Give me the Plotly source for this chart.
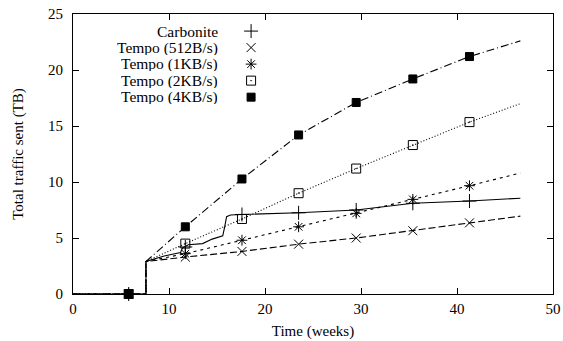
import plotly.graph_objects as go

# ---- data ----
marker_weeks = [5.8, 11.7, 17.6, 23.5, 29.5, 35.4, 41.3]

carb_line_x = [0, 7.6, 7.6, 9.5, 11.2, 11.4, 12.0, 13.5, 14.5, 15.6, 15.8, 16.0, 16.4, 17.6, 23.5, 29.5, 35.4, 41.3, 46.6]
carb_line_y = [0, 0, 2.9, 3.4, 3.7, 4.1, 4.4, 4.5, 4.9, 5.2, 6.0, 6.9, 7.05, 7.1, 7.25, 7.5, 8.1, 8.3, 8.55]
carb_marks = [0, 4.2, 7.1, 7.25, 7.5, 8.1, 8.3]

tempo_line_x = [0, 7.6, 7.6, 11.7, 17.6, 23.5, 29.5, 35.4, 41.3, 46.6]
t512_y = [0, 0, 2.9, 3.3, 3.8, 4.45, 5.0, 5.65, 6.35, 6.95]
t1k_y = [0, 0, 2.9, 3.6, 4.8, 6.0, 7.2, 8.45, 9.67, 10.8]
t2k_y = [0, 0, 2.9, 4.5, 6.7, 9.0, 11.2, 13.3, 15.35, 17.0]
t4k_y = [0, 0, 2.9, 6.0, 10.27, 14.2, 17.1, 19.2, 21.2, 22.6]

names = ["Carbonite", "Tempo (512B/s)", "Tempo (1KB/s)", "Tempo (2KB/s)", "Tempo (4KB/s)"]

x_ticks = [0, 10, 20, 30, 40, 50]
y_ticks = [0, 5, 10, 15, 20, 25]

FONT = "Liberation Serif, serif"

fig = go.Figure()

series = [
    (names[0], carb_line_x, carb_line_y, "solid", "cross-thin-open", 10),
    (names[1], tempo_line_x, t512_y, "7px,3px", "x-thin-open", 9),
    (names[2], tempo_line_x, t1k_y, "3px,4px", "asterisk-open", 9),
    (names[3], tempo_line_x, t2k_y, "1px,2px", "square-open-dot", 9),
    (names[4], tempo_line_x, t4k_y, "8px,3px,1px,3px", "square", 8),
]

for name, lx, ly, dash, sym, sz in series:
    fig.add_trace(go.Scatter(x=lx, y=ly, mode="lines", showlegend=False,
                             line=dict(color="black", width=1.1, dash=dash),
                             hoverinfo="skip", cliponaxis=False))

def marks_for(lx, ly):
    # marker values at the sample weeks, taken from the line data points
    out = []
    for w in marker_weeks:
        if w in lx:
            out.append(ly[len(lx) - 1 - lx[::-1].index(w)])
        else:
            out.append(0)
    return out

mark_vals = [carb_marks, marks_for(tempo_line_x, t512_y), marks_for(tempo_line_x, t1k_y),
             marks_for(tempo_line_x, t2k_y), marks_for(tempo_line_x, t4k_y)]

for (name, lx, ly, dash, sym, sz), mv in zip(series, mark_vals):
    fig.add_trace(go.Scatter(x=marker_weeks, y=mv, mode="markers", name=name,
                             showlegend=False, cliponaxis=False,
                             marker=dict(symbol=sym, size=sz, color="black",
                                         line=dict(color="black", width=1))))

# ---- gnuplot-style key: right-aligned text, symbol to the right ----
KEY_TEXT_X = 0.305      # fraction of plot width (text right edge)
KEY_SYM_X = 0.371       # fraction of plot width (symbol centre)
KEY_TOP = 0.939         # fraction of plot height (first row)
KEY_STEP = 0.059        # row spacing as fraction of plot height

for i, (name, lx, ly, dash, sym, sz) in enumerate(series):
    row_y = KEY_TOP - i * KEY_STEP
    fig.add_annotation(xref="paper", yref="paper", x=KEY_TEXT_X, y=row_y,
                       text=name, showarrow=False, xanchor="right", yanchor="middle",
                       height=14, borderpad=0, align="right",
                       font=dict(family=FONT, size=15.5, color="black"))
    fig.add_trace(go.Scatter(x=[KEY_SYM_X], y=[row_y], xaxis="x2", yaxis="y2",
                             mode="markers", showlegend=False, hoverinfo="skip",
                             cliponaxis=False,
                             marker=dict(symbol=sym, size=sz, color="black",
                                         line=dict(color="black", width=1))))

axis_common = dict(showline=True, linecolor="black", linewidth=1.2, mirror="ticks",
                   ticks="inside", ticklen=6, tickwidth=1.2, tickcolor="black",
                   showgrid=False, zeroline=False, automargin=False,
                   ticklabeloverflow="allow",
                   tickfont=dict(family=FONT, size=15, color="black"))

fig.update_layout(
    width=563, height=341,
    margin=dict(l=73, r=10, t=14, b=47),
    paper_bgcolor="white", plot_bgcolor="white",
    font=dict(family=FONT, size=15, color="black"),
    showlegend=False,
    xaxis=dict(range=[0, 50], tickvals=x_ticks, ticklabelstandoff=1, **axis_common,
               title=dict(text="Time (weeks)", font=dict(family=FONT, size=15), standoff=9)),
    yaxis=dict(range=[0, 25], tickvals=y_ticks, ticklabelstandoff=6, **axis_common,
               title=dict(text="Total traffic sent (TB)", font=dict(family=FONT, size=15), standoff=20)),
    xaxis2=dict(overlaying="x", range=[0, 1], visible=False, fixedrange=True),
    yaxis2=dict(overlaying="y", range=[0, 1], visible=False, fixedrange=True),
)

fig.write_html("out.html", config={"displayModeBar": False},
               post_script="document.body.style.margin='0';document.body.style.overflow='hidden';")
